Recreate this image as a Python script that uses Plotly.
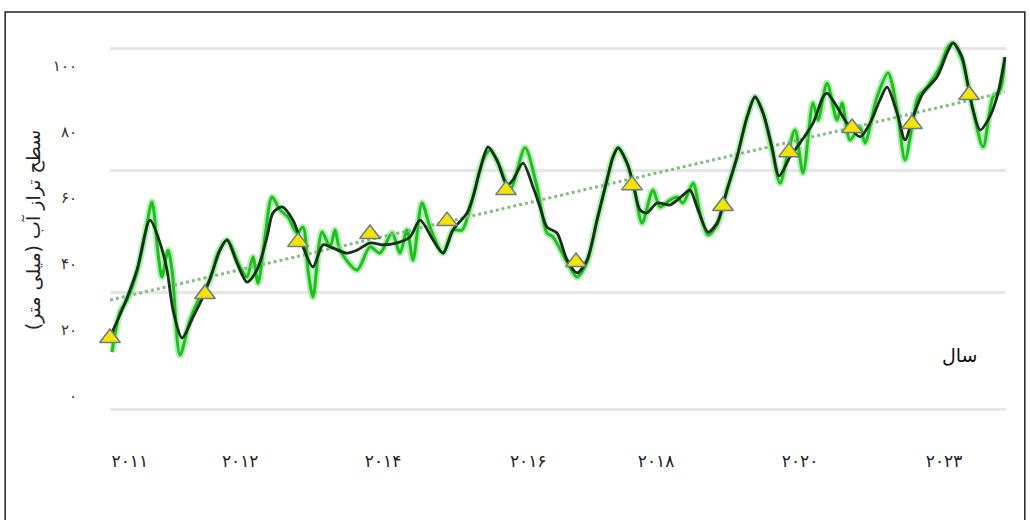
import plotly.graph_objects as go

# Month index along the record and tick labels for the x axis
tick_months = [3.3, 21.7, 45.5, 69.7, 91.0, 115.0, 139.0]
tick_years = ["۲۰۱۱", "۲۰۱۲", "۲۰۱۴", "۲۰۱۶", "۲۰۱۸", "۲۰۲۰", "۲۰۲۳"]

# Y axis labels (mm)
y_ticks = [0, 20, 40, 60, 80, 100]
y_tick_text = ["۰", "۲۰", "۴۰", "۶۰", "۸۰", "۱۰۰"]

# Reference grid levels
grid_levels = [-4.2, 31.5, 68.2, 105.2]

# Smoothed sea level series
smooth_t = [0, 2.5, 4.5, 6.67, 8.33, 9.5, 10.5, 12, 13.83, 15.5, 17.17, 18.33, 19.5,
            21.17, 22.83, 24.5, 26.17, 27.17, 28.67, 30.5, 32.17, 33.83, 35.5, 37.17,
            39.5, 41.17, 43.33, 45.5, 47.83, 50, 51.67, 53.83, 55.5, 57.17, 59.5, 60.5,
            61.67, 63, 64.5, 66.17, 67.17, 68.83, 70.5, 71.67, 72.83, 74.5, 76.17,
            77.83, 79.5, 81.17, 82.83, 83.83, 84.67, 86.17, 87.17, 88.33, 89.5, 91.17,
            93.33, 95.5, 96.67, 97.83, 99.67, 101.17, 102.83, 104.5, 106.17, 107.5,
            108.83, 110.33, 111.5, 113.33, 115, 117.17, 118.83, 119.5, 121.17, 122.83,
            125, 126.67, 128.33, 129.5, 131.17, 132.5, 133.83, 135.5, 137.83, 139.5,
            140.5, 142, 142.83, 143.83, 145, 146.33, 147.83, 149.17]
smooth_mm = [17.9, 28.2, 38.2, 53.3, 46.4, 38.2, 26.1, 17.6, 23.9, 30.0, 38.2, 44.2, 47.3,
             40.3, 34.5, 38.2, 48.2, 55.5, 57.3, 53.3, 45.2, 39.1, 45.8, 44.8,
             43.3, 44.2, 46.4, 45.8, 46.4, 48.2, 53.3, 47.3, 43.3, 50.3, 55.5, 60.3,
             68.5, 75.5, 71.5, 63.9, 65.5, 70.6, 63.3, 57.3, 51.2, 49.4, 41.2,
             37.3, 41.2, 53.3, 65.5, 72.4, 75.2, 70.6, 64.5, 56.4, 55.5, 58.5,
             57.9, 60.9, 62.4, 57.3, 49.7, 52.4, 62.4, 72.4, 84.5, 90.6,
             85.8, 75.5, 66.7, 72.4, 76.7, 82.7, 90.6, 91.8, 87.6, 82.7,
             78.5, 82.7, 89.7, 93.6, 85.8, 77.6, 84.5, 91.8, 96.7, 103.9,
             107.0, 102.7, 95.8, 86.7, 80.6, 83.6, 90.6, 102.7]

# Raw sea level series
raw_t = [0.33, 1.67, 2.83, 4.5, 5.83, 7, 8, 8.67, 9.67, 10.33, 11.67, 13.33, 15, 16.67,
         18, 19.5, 21.67, 22.83, 23.83, 24.67, 25.83, 27, 28.33, 29.67, 31.17, 32.17,
         33, 33.83, 35.33, 36.67, 37.5, 38.33, 41.17, 43.33, 45, 47, 48.33, 49.5, 50.5,
         52, 53.33, 55.5, 57.17, 58.67, 60.5, 62.17, 63.33, 65, 66.67, 69.17, 71.17,
         72.83, 73.83, 76.17, 77.83, 79.5, 81.17, 82.83, 83.83, 84.67, 86.17, 87.5,
         88.67, 90.5, 91.67, 93.33, 94.5, 95.5, 97.17, 98.33, 99.67, 101.17, 102.83,
         104.5, 106.17, 107.5, 108.83, 110.33, 111.67, 112.83, 114.17, 115.5, 117.17,
         118, 119.5, 121.17, 122, 123.33, 125, 125.83, 127.83, 129.67, 131.17, 132.5,
         133.83, 134.67, 136.17, 138.33, 139.67, 140.5, 142, 143.83, 145.5, 147.17,
         148.33, 149.17]
raw_mm = [13.3, 25.5, 29.1, 37.6, 48.8, 58.8, 43.3, 36.1, 44.2, 38.2, 12.4, 23.0, 30.0, 35.2,
          43.3, 47.3, 39.1, 36.1, 42.1, 34.2, 48.2, 60.3, 56.4, 54.2, 49.4, 51.2,
          38.2, 30.0, 49.7, 45.2, 50.3, 44.2, 38.2, 45.2, 43.3, 49.4, 43.3, 50.3, 41.2,
          58.5, 51.2, 43.3, 50.3, 50.3, 60.3, 71.5, 74.5, 69.4, 62.4, 75.2, 63.3,
          49.4, 48.2, 40.6, 36.1, 40.6, 53.3, 65.5, 72.4, 75.2, 70.6, 61.8,
          52.4, 62.4, 57.3, 59.4, 60.3, 58.5, 64.5, 55.5, 48.8, 51.8, 62.4,
          72.4, 84.5, 90.6, 85.8, 74.5, 64.5, 72.4, 80.6, 67.6, 88.8,
          83.6, 94.8, 83.6, 88.8, 77.6, 81.5, 76.7, 90.6, 97.9, 86.7, 71.5,
          83.6, 90.6, 93.6, 99.7, 105.8, 107.0, 101.8, 86.7, 75.5, 90.6,
          92.7, 102.7]

# Annual mean markers
annual_t = [0, 15.83, 31.33, 43.33, 56.17, 66, 77.67, 87, 102.17, 113.17, 123.67, 133.67, 143.17]
annual_mm = [17.6, 30.9, 46.7, 49.1, 53.0, 62.4, 40.6, 63.9, 57.6, 73.9, 81.2, 82.4, 91.2]

# Linear trend end points
trend_t = [0, 149.17]
trend_mm = [29.1, 92.1]

fig = go.Figure()

# soft halo under the raw series
fig.add_trace(go.Scatter(x=raw_t, y=raw_mm, mode="lines",
                         line=dict(color="rgba(120,225,120,0.55)", width=7, shape="spline", smoothing=0.8),
                         hoverinfo="skip", showlegend=False))
fig.add_trace(go.Scatter(x=raw_t, y=raw_mm, mode="lines",
                         line=dict(color="#1fbf1f", width=3, shape="spline", smoothing=0.8),
                         showlegend=False))
fig.add_trace(go.Scatter(x=trend_t, y=trend_mm, mode="lines",
                         line=dict(color="#7fbf7f", width=3, dash="dot"),
                         showlegend=False))
fig.add_trace(go.Scatter(x=smooth_t, y=smooth_mm, mode="lines",
                         line=dict(color="#17301a", width=2.8, shape="spline", smoothing=0.8),
                         showlegend=False))
fig.add_trace(go.Scatter(x=annual_t, y=annual_mm, mode="markers",
                         marker=dict(symbol="triangle-up", size=18, color="#f2e600",
                                     line=dict(color="#6d7891", width=1.5)),
                         cliponaxis=False, showlegend=False))
# carrier for the grid axis
fig.add_trace(go.Scatter(x=[None], y=[None], yaxis="y2", hoverinfo="skip", showlegend=False))

y_range = [-7.27, 107.88]

fig.update_layout(
    width=1030, height=520,
    margin=dict(l=110, r=24, t=40, b=100),
    paper_bgcolor="white", plot_bgcolor="white",
    font=dict(family="DejaVu Sans", color="#222222"),
    xaxis=dict(range=[0, 149.33], tickvals=tick_months, ticktext=tick_years,
               showgrid=False, zeroline=False, showline=False, ticks="",
               ticklabelstandoff=29, tickfont=dict(size=17, color="#222222")),
    yaxis=dict(range=y_range, tickvals=y_ticks, ticktext=y_tick_text,
               showgrid=False, zeroline=False, showline=False, ticks="",
               ticklabelstandoff=32, tickfont=dict(size=15, color="#333333"),
               title=dict(text="سطح تراز آب (میلی متر)", standoff=7,
                          font=dict(size=19, color="#222222"))),
    yaxis2=dict(range=y_range, overlaying="y", tickvals=grid_levels,
                showticklabels=False, showgrid=True, gridcolor="#e6e6e6", gridwidth=3,
                zeroline=False, showline=False, ticks=""),
    annotations=[dict(text="سال", xref="paper", yref="paper", x=0.971, y=0.137,
                      showarrow=False, font=dict(size=19, color="#111111"))],
    shapes=[dict(type="rect", xref="paper", yref="paper",
                 x0=-0.117, x1=1.021, y0=-0.27, y1=1.074,
                 line=dict(color="#222222", width=1.5), fillcolor="rgba(0,0,0,0)")],
)

fig.write_html("out.html")
